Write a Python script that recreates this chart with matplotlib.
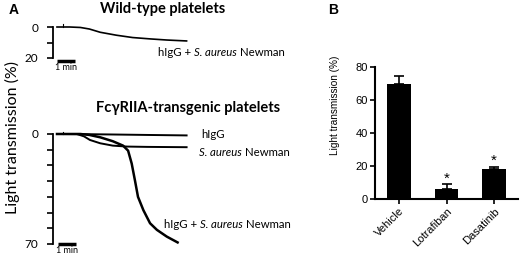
import numpy as np
import matplotlib.pyplot as plt

plt.rcParams['font.family'] = ['Lato', 'DejaVu Sans']

# wild-type trace (min, % transmission)
wt_t = [0, 0.7, 1.3, 1.8, 2.4, 3.3, 4.2, 5.2, 6.1, 7.2]
wt_v = [0, 0, 0.3, 1.3, 3.4, 5.3, 6.8, 7.7, 8.4, 9.0]

# FcgRIIA-transgenic traces
igg_t = [0, 1.5, 3, 5, 7.2]
igg_v = [0, 0.1, 0.3, 0.6, 0.9]
sa_t = [0, 1.1, 1.5, 1.83, 2.4, 3.1, 3.9, 5, 7.2]
sa_v = [0, 0, 1.5, 3.8, 5.9, 7.4, 8.0, 8.2, 8.4]
mix_t = [0, 1.3, 1.8, 2.4, 3.1, 3.67, 3.95, 4.15, 4.33, 4.5, 4.8, 5.17, 5.55, 6.1, 6.7]
mix_v = [0, 0, 0.6, 2.1, 4.6, 7.4, 10.6, 18.8, 29.5, 40, 48.5, 56.8, 61, 65.3, 69]

# panel B
groups = ['Vehicle', 'Lotrafiban', 'Dasatinib']
means = [69.5, 6, 18]
sems = [5, 3, 1.5]

W, H = 520, 260
fig = plt.figure(figsize=(5.2, 2.6), dpi=100)


def box(l, t, r, b):
    return [l / W, 1 - b / H, (r - l) / W, (b - t) / H]


def px(x, y):
    return x / W, 1 - y / H


def rich_line(x, y, parts, size=8.2):
    # pieces of text with mixed styles, one after another
    t = fig.text(*px(x, y), parts[0][0], fontsize=size, style=parts[0][1],
                 va='center')
    for s, st in parts[1:]:
        t = fig.axes[0].annotate(s, xy=(1, 0), xycoords=t, xytext=(2.2, 0),
                                 textcoords='offset points', fontsize=size,
                                 style=st, va='bottom', ha='left',
                                 annotation_clip=False)


def trace_axes(rect, ymax, ticks, labels):
    ax = fig.add_axes(rect)
    ax.set_xlim(-0.222, 13.667)
    ax.set_ylim(ymax, 0)
    for s in ['top', 'right', 'bottom']:
        ax.spines[s].set_visible(False)
    ax.spines['left'].set_linewidth(1.3)
    ax.set_xticks([])
    ax.set_yticks(ticks)
    ax.set_yticklabels(labels, fontsize=8.5)
    ax.tick_params(axis='y', length=4.5, width=1.2, pad=6)
    ax.patch.set_alpha(0)
    return ax


ax1 = trace_axes(box(53, 27, 303, 58), 20, [0, 10, 20], ['0', '', '20'])
ax1.plot(wt_t, wt_v, color='k', lw=1.2, clip_on=False)
ax1.plot([0.33, 0.33], [0, -1.8], color='k', lw=0.8, clip_on=False)
ax1.plot([0, 1], [22, 22], color='k', lw=2.5, clip_on=False, solid_capstyle='butt')
ax1.text(0.5, 23.5, '1 min', fontsize=6.5, ha='center', va='top')

ax2 = trace_axes(box(53, 134, 303, 244), 70, list(range(0, 71, 10)),
                 ['0', '', '', '', '', '', '', '70'])
ax2.plot(igg_t, igg_v, color='k', lw=1.4, clip_on=False)
ax2.plot(sa_t, sa_v, color='k', lw=1.4, clip_on=False)
ax2.plot(mix_t, mix_v, color='k', lw=1.8, clip_on=False)
ax2.plot([0.33, 0.33], [0, -1.5], color='k', lw=0.8, clip_on=False)
ax2.plot([0.05, 1.05], [70, 70], color='k', lw=2.5, clip_on=False, solid_capstyle='butt')
ax2.text(0.55, 71.5, '1 min', fontsize=6.5, ha='center', va='top')

combo = [('hIgG +', 'normal'), ('S. aureus', 'italic'), ('Newman', 'normal')]
rich_line(158, 52, combo)
fig.text(*px(201, 135), 'hIgG', fontsize=8.2, va='center')
rich_line(199, 153, [('S. aureus', 'italic'), ('Newman', 'normal')])
rich_line(164, 225, combo)

fig.text(*px(100, 9), 'Wild-type platelets', fontsize=10.5, fontweight='bold',
         ha='left', va='center')
fig.text(*px(96, 108), 'FcγRIIA-transgenic platelets', fontsize=10.5,
         fontweight='bold', ha='left', va='center')
fig.text(*px(12, 137), 'Light transmission (%)', fontsize=11.5, rotation=90,
         ha='center', va='center')
fig.text(*px(14, 10), 'A', fontsize=10, fontweight='bold', family='Liberation Sans',
         ha='center', va='center')
fig.text(*px(333, 10), 'B', fontsize=10, fontweight='bold', family='Liberation Sans',
         ha='center', va='center')

axb = fig.add_axes(box(375, 67, 518, 199))
x = np.arange(len(groups))
axb.bar(x, means, width=0.5, color='k')
axb.errorbar(x, means, yerr=[np.zeros(len(sems)), sems], fmt='none', ecolor='k',
             elinewidth=1.2, capsize=3.5, capthick=1.2)
for i in [1, 2]:
    axb.annotate('*', (x[i], means[i] + sems[i]), xytext=(0, -1),
                 textcoords='offset points', ha='center', va='bottom',
                 fontsize=11, family='Liberation Sans')
axb.set_xlim(-0.5, 2.5)
axb.set_ylim(0, 80)
axb.set_yticks([0, 20, 40, 60, 80])
axb.set_xticks(x)
axb.set_xticklabels(groups, rotation=45, ha='right', rotation_mode='anchor',
                    family='Liberation Sans', fontsize=8)
for t in axb.get_yticklabels():
    t.set_family('Liberation Sans')
    t.set_fontsize(8)
for s in ['top', 'right']:
    axb.spines[s].set_visible(False)
for s in ['left', 'bottom']:
    axb.spines[s].set_linewidth(1.5)
axb.tick_params(length=3.5, width=1.2, pad=1.5)
fig.text(*px(335, 105), 'Light transmission (%)', fontsize=7.2, rotation=90,
         family='Liberation Sans', ha='center', va='center')

fig.savefig('out.png', dpi=100)
